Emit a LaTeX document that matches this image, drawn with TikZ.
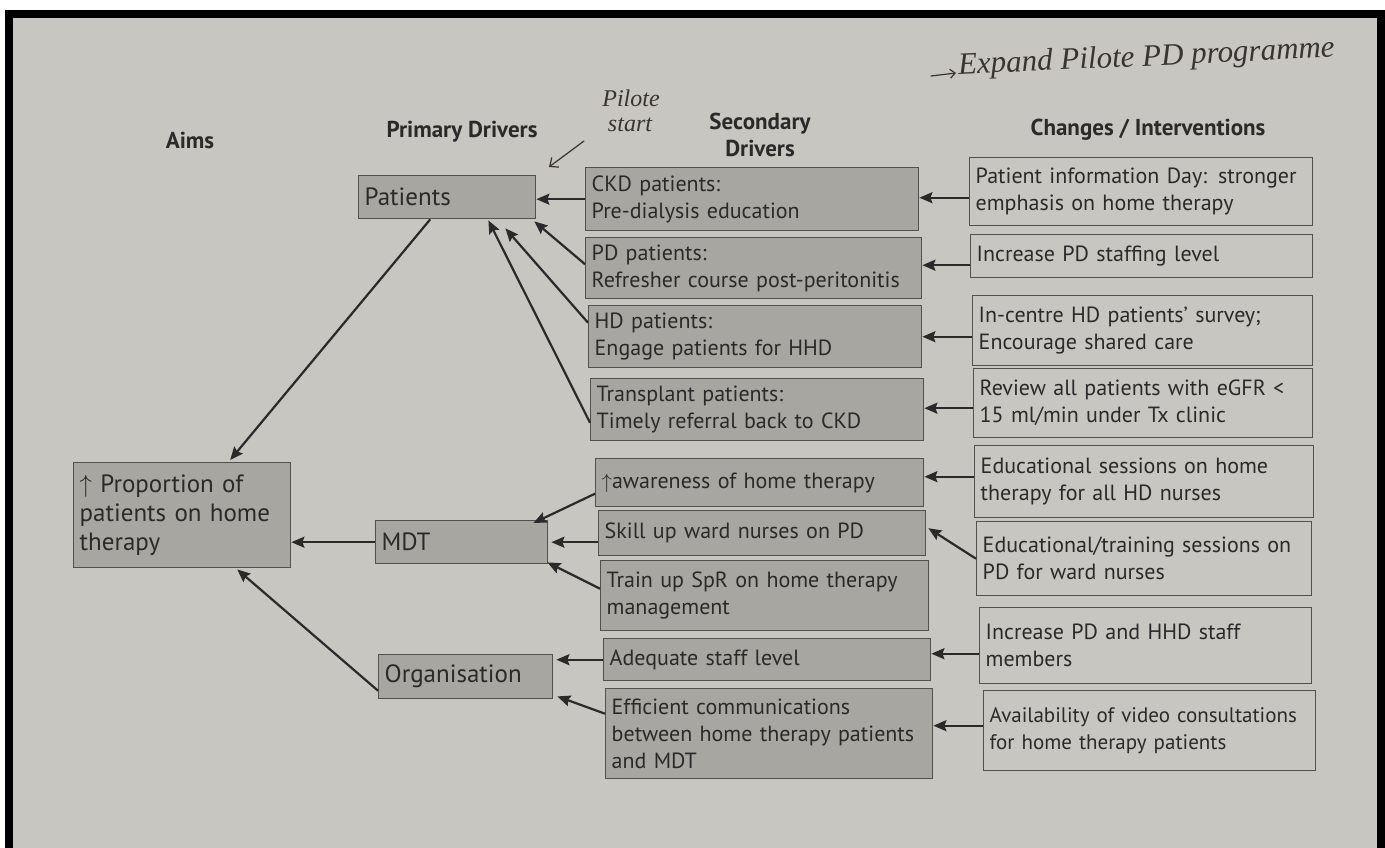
\documentclass[tikz,border=0pt]{standalone}
\usepackage{fontspec}
\setmainfont{PT Sans}
\newfontfamily\handfont{Liberation Serif}
\usetikzlibrary{arrows.meta,calc}

\definecolor{paper}{RGB}{200,198,193}
\definecolor{shade}{RGB}{168,166,161}
\definecolor{edge}{RGB}{82,81,78}
\definecolor{ink}{RGB}{42,42,42}
\definecolor{pen}{RGB}{55,52,50}

% box from top-left (x1,y1) to bottom-right (x2,y2), pixel-like units, y downwards
\newcommand\bx[7]{%
  \pgfmathsetmacro\bw{#5-#3}%
  \pgfmathsetmacro\bh{#6-#4}%
  \pgfmathsetmacro\tw{#5-#3-12}%
  \node[#1, anchor=north west, minimum width=\bw pt, minimum height=\bh pt,
        text width=\tw pt] (#2) at (#3,#4) {#7};}

\begin{document}
\begin{tikzpicture}[x=1pt,y=-1pt,
  darkbox/.style={draw=edge, fill=shade, line width=1.4pt, inner xsep=6pt, inner ysep=2pt,
     align=left, text=ink, font=\fontsize{22}{27}\selectfont,
     execute at begin node={\hyphenpenalty=10000 \exhyphenpenalty=10000 }},
  lightbox/.style={darkbox, fill=paper},
  bigbox/.style={darkbox, font=\fontsize{25}{29}\selectfont},
  hdr/.style={text=ink, font=\bfseries\fontsize{23}{27}\selectfont, align=center},
  link/.style={draw=ink, line width=2.2pt, -{Stealth[length=13pt,width=11pt,inset=2pt]}},
  handline/.style={draw=pen, line width=1.2pt, line cap=round},
  handtxt/.style={text=pen, inner sep=1pt, font=\handfont\itshape\fontsize{24}{25}\selectfont}]

\useasboundingbox (0,0) rectangle (1385,848);
% sheet and frame
\fill[white] (0,0) rectangle (1385,848);
\fill[black] (5,10) rectangle (1385,850);
\fill[paper] (13,18) rectangle (1377,850);

% column headings
\node[hdr] (hAims) at (190,140) {Aims};
\node[hdr] (hPrim) at (462,132) {Primary Drivers};
\node[hdr] (hSec)  at (760,135) {Secondary\\Drivers};
\node[hdr] (hChg)  at (1148,130) {Changes / Interventions};

% aim
\bx{bigbox}{aim}{73}{462}{290}{567}{$\uparrow$ Proportion of\\patients on home\\therapy}

% primary drivers
\bx{bigbox}{pat}{358}{175}{535}{218}{Patients}
\bx{bigbox}{mdt}{375}{520}{547}{563}{MDT}
\bx{bigbox}{org}{378}{654}{552}{698}{Organisation}

% secondary drivers
\bx{darkbox}{ckd}{585}{167}{918}{230}{CKD patients:\\Pre-dialysis education}
\bx{darkbox}{pd}{585}{237}{921}{298}{PD patients:\\Refresher course post-peritonitis}
\bx{darkbox}{hd}{588}{305}{921}{367}{HD patients:\\Engage patients for HHD}
\bx{darkbox}{tx}{590}{378}{923}{440}{Transplant patients:\\Timely referral back to CKD}
\bx{darkbox}{aware}{595}{458}{923}{506}{$\uparrow$awareness of home therapy}
\bx{darkbox}{skill}{598}{510}{925}{555}{Skill up ward nurses on PD}
\bx{darkbox}{spr}{600}{560}{928}{630}{Train up SpR on home therapy\\management}
\bx{darkbox}{staff}{603}{638}{930}{680}{Adequate staff level}
\bx{darkbox}{comm}{605}{688}{932}{778}{Efficient communications\\between home therapy patients\\and MDT}

% changes / interventions
\bx{lightbox}{info}{969}{157}{1312}{225}{Patient information Day: stronger\\emphasis on home therapy}
\bx{lightbox}{pdstaff}{970}{234}{1312}{277}{Increase PD staffing level}
\bx{lightbox}{survey}{972}{295}{1312}{365}{In-centre HD patients' survey;\\Encourage shared care}
\bx{lightbox}{review}{973}{368}{1312}{437}{Review all patients with eGFR <\\15 ml/min under Tx clinic}
\bx{lightbox}{edu}{974}{445}{1313}{517}{Educational sessions on home\\therapy for all HD nurses}
\bx{lightbox}{train}{976}{521}{1311}{595}{Educational/training sessions on\\PD for ward nurses}
\bx{lightbox}{hhd}{979}{607}{1311}{683}{Increase PD and HHD staff\\members}
\bx{lightbox, font=\fontsize{21}{27}\selectfont}{video}{983}{690}{1315}{770}{\mbox{Availability of video consultations}\\for home therapy patients}

% primary drivers -> aim
\draw[link] ([xshift=-17pt]pat.south) -- ([xshift=48pt,yshift=2pt]aim.north);
\draw[link] (mdt.west) -- (mdt.west -| aim.east);
\draw[link] ([yshift=-14pt]org.west) -- ([xshift=55pt,yshift=-1pt]aim.south);

% secondary drivers -> primary drivers
\draw[link] (ckd.west) -- (ckd.west -| pat.east);
\draw[link] ([yshift=4pt]pd.west) -- ([xshift=-2pt,yshift=-2pt]pat.south east);
\draw[link] ([yshift=14pt]hd.west) -- ([xshift=-31pt,yshift=-9pt]pat.south east);
\draw[link] ([yshift=-13pt]tx.west) -- ([xshift=-48pt,yshift=-1pt]pat.south east);
\draw[link] ([yshift=-11pt]aware.west) -- ([xshift=-15pt,yshift=-3pt]mdt.north east);
\draw[link] (mdt.east -| skill.west) -- ([xshift=3pt]mdt.east);
\draw[link] ([yshift=7pt]spr.west) -- ([xshift=-1pt,yshift=2pt]mdt.south east);
\draw[link] (staff.west) -- ([xshift=3pt]staff.west -| org.east);
\draw[link] ([yshift=20pt]comm.west) -- ([xshift=4pt,yshift=3pt]org.south east);

% changes -> secondary drivers
\draw[link] ([yshift=-6pt]info.west) -- ([yshift=-6pt]info.west -| ckd.east);
\draw[link] ([yshift=-9pt]pdstaff.west) -- ([yshift=-9pt]pdstaff.west -| pd.east);
\draw[link] ([yshift=-6pt]survey.west) -- ([yshift=-6pt]survey.west -| hd.east);
\draw[link] ([yshift=-5pt]review.west) -- ([yshift=-5pt]review.west -| tx.east);
\draw[link] ([yshift=5pt]edu.west) -- ([yshift=5pt]edu.west -| aware.east);
\draw[link] (train.west) -- ([xshift=2pt,yshift=5pt]skill.east);
\draw[link] ([yshift=-8pt]hhd.west) -- ([yshift=-8pt]hhd.west -| staff.east);
\draw[link] ([yshift=5pt]video.west) -- ([yshift=5pt]video.west -| comm.east);

% pen notes
\node[handtxt] (pilote) at (631,98) {Pilote};
\node[handtxt] (start) at (630,125) {start};
\coordinate (penA) at (584,141);
\coordinate (penB) at (549,167);
\draw[handline, -{Straight Barb[length=7pt,width=12pt]}] (penA) -- (penB);

\coordinate (expA) at (931,76);
\coordinate (expB) at (956,73);
\draw[handline, -{Straight Barb[length=5pt,width=9pt]}] (expA) -- (expB);
\node[handtxt, anchor=west, rotate=2.6, font=\handfont\itshape\fontsize{31}{32}\selectfont]
  (expand) at (957,67) {Expand Pilote PD programme};
\end{tikzpicture}
\end{document}
